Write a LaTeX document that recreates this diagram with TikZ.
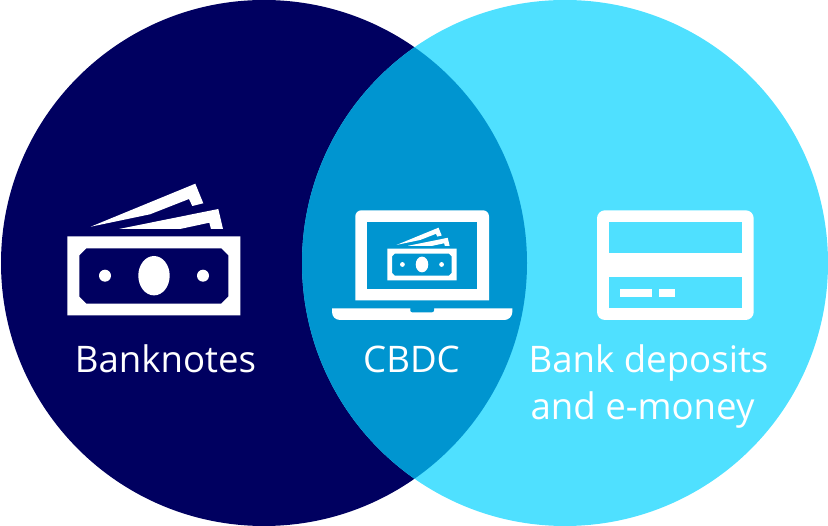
\documentclass[tikz,border=0pt]{standalone}
\usepackage{fontspec}
\setmainfont{Open Sans}
\definecolor{navy}{HTML}{000060}
\definecolor{sky}{HTML}{4FE0FF}
\definecolor{mid}{HTML}{0095D0}
\tikzset{
  lbl/.style={text=white,anchor=base,inner sep=0pt,font=\fontsize{36.6}{44}\selectfont},
  note/.pic={
    \fill[white,even odd rule] (67.3,236.3) rectangle (240.3,315.3)
      (86.3,248.3) -- (221.3,248.3) -- (228.3,255.3) -- (228.3,296.7) -- (221.3,303.7)
      -- (86.3,303.7) -- (79.3,296.7) -- (79.3,255.3) -- cycle;
    \fill[white] (154,275.7) ellipse [x radius=15.7,y radius=19.7];
    \fill[white] (105,275.7) circle (6) (203,275.7) circle (6);
    \fill[white] (90.7,226.7) -- (195.3,183.7) -- (203.3,203.3) -- (192.3,206) -- (189,199) -- (150,214.3) -- cycle;
    \fill[white] (119,229) -- (218.3,209) -- (223,229) -- (211,229) -- (209.3,222.7) -- (180,229) -- cycle;
  }
}
\begin{document}
\begin{tikzpicture}[x=1pt,y=-1pt]
\useasboundingbox (0,0) rectangle (828,526);
% circles
\fill[navy] (264,263) circle (263);
\fill[sky] (565,263) circle (263);
\begin{scope}
  \clip (264,263) circle (263);
  \fill[mid] (565,263) circle (263);
\end{scope}
% banknotes icon
\pic at (0,0) {note};
% laptop
\fill[white,rounded corners=6pt] (355.3,300.3) [sharp corners] -- (355.3,300.3)
  [rounded corners=6pt] -- (355.3,210.3) -- (489,210.3) [sharp corners] -- (489,300.3) -- cycle;
\fill[mid] (367,222) rectangle (477,288.7);
\fill[white] (332,308.3) -- (512.3,308.3) [rounded corners=8pt] -- (512.3,320) -- (332,320) [sharp corners] -- cycle;
\fill[mid,rounded corners=2pt] (410.3,306) rectangle (434,312.3);
\pic[scale=0.4] at (360.4,154.2) {note};
% card
\fill[white,rounded corners=8pt] (597,210.3) rectangle (753.7,320);
\fill[sky] (608.7,222) rectangle (742,253.3);
\fill[sky] (608.7,277) rectangle (742,308.3);
\fill[white] (620,289) rectangle (652,297);
\fill[white] (659,289) rectangle (675,297);
% labels
\node[lbl] (banknotes) at (165.5,372.8) {Banknotes};
\node[lbl] (cbdc) at (411.5,372.8) {CBDC};
\node[lbl] (deposits) at (648.5,372.8) {Bank deposits};
\node[lbl] (emoney) at (642.5,420) {and e-money};
\end{tikzpicture}
\end{document}
